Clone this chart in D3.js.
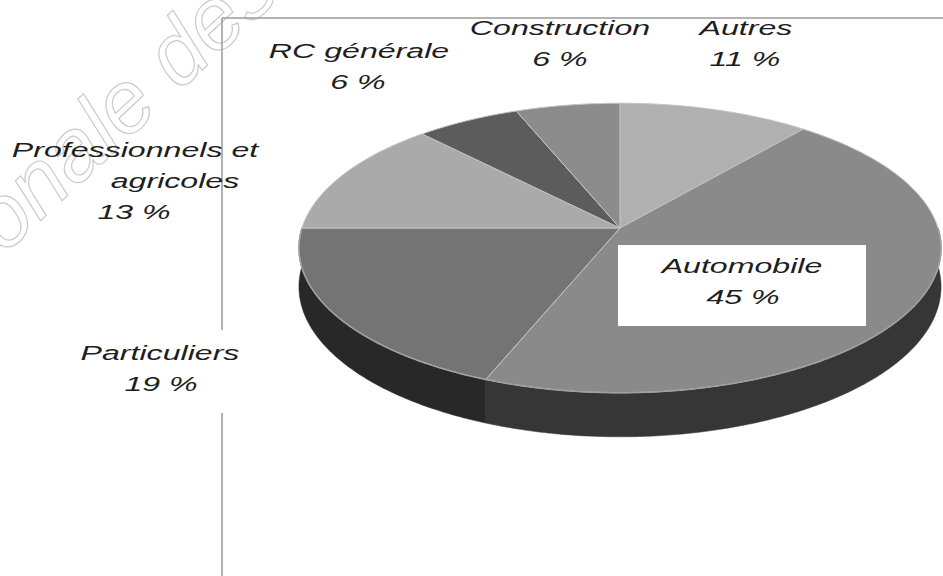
<!DOCTYPE html>
<html>
<head>
<meta charset="utf-8">
<script src="https://cdnjs.cloudflare.com/ajax/libs/d3/7.8.5/d3.min.js"></script>
<style>
  html, body { margin: 0; padding: 0; background: #fff; }
  svg { display: block; }
  .lbl { font-family: "Liberation Sans", Arial, sans-serif; font-style: italic; font-size: 21px; fill: #1e1e1e; }
  .wm { font-family: "Liberation Sans", Arial, sans-serif; font-style: italic; font-size: 88px; fill: none; stroke: #cacaca; stroke-width: 1.2; }
</style>
</head>
<body>
<div id="chart"></div>
<script>
// data
const categories = ['Autres', 'Automobile', 'Particuliers', 'Professionnels et agricoles', 'RC générale', 'Construction'];
const values = [11, 45, 19, 13, 6, 6];
const labelLines = [['Autres', '11 %'], ['Automobile', '45 %'], ['Particuliers', '19 %'],
  ['Professionnels et', 'agricoles', '13 %'], ['RC générale', '6 %'], ['Construction', '6 %']];

const topColors = ['#b0b0b0', '#8a8a8a', '#747474', '#aaaaaa', '#5c5c5c', '#8c8c8c'];
const sideColors = ['#5e5e5e', '#363636', '#282828', '#555555', '#303030', '#404040'];

// label layout: x of each line (centre), y of first baseline
const labelLayout = [
  {x: [746, 745], y: 35},
  {x: [742, 743], y: 273},
  {x: [160, 161], y: 360},
  {x: [135, 175, 134], y: 157},
  {x: [359, 358], y: 58},
  {x: [560, 560], y: 35}
];

const width = 943, height = 576;
const cx = 620, cy = 228, rx = 318, ry = 142, persp = 0.138, depth = 38;

const svg = d3.select('#chart')
  .append('svg')
  .attr('width', width)
  .attr('height', height);

// faint watermark of the scan
svg.append('text')
  .attr('class', 'wm')
  .attr('transform', 'translate(-100,352) rotate(-43)')
  .text('nationale des S');

// frame lines of the scanned page
svg.append('line')
  .attr('x1', 222).attr('y1', 18).attr('x2', width).attr('y2', 18)
  .attr('stroke', '#9a9a9a').attr('stroke-width', 1.5);
svg.append('line')
  .attr('x1', 222).attr('y1', 18).attr('x2', 222).attr('y2', height)
  .attr('stroke', '#9a9a9a').attr('stroke-width', 1.5);

// perspective projection of a point on the pie rim
function proj(t, dz) {
  const u = Math.sin(t), v = Math.cos(t), w = 1 + persp * v;
  return [cx + rx * u / w, cy - ry * v / w + (dz || 0) / w];
}

function arcPoints(a0, a1, dz) {
  const n = Math.max(2, Math.ceil((a1 - a0) / 0.01));
  return d3.range(n + 1).map(i => proj(a0 + (a1 - a0) * i / n, dz));
}

const line = d3.line();

const arcs = d3.pie().sort(null).value(d => d)(values);

const pie = svg.append('g');

// visible side wall (front half)
arcs.forEach((a, i) => {
  const s = Math.max(a.startAngle, Math.PI / 2);
  const e = Math.min(a.endAngle, 3 * Math.PI / 2);
  if (e <= s) return;
  const pts = arcPoints(s, e, 0).concat(arcPoints(s, e, depth).reverse());
  pie.append('path')
    .attr('d', line(pts) + 'Z')
    .attr('fill', sideColors[i])
    .attr('stroke', sideColors[i])
    .attr('stroke-width', 0.5);
});

// top faces
arcs.forEach((a, i) => {
  const pts = [[cx, cy]].concat(arcPoints(a.startAngle, a.endAngle, 0));
  pie.append('path')
    .attr('d', line(pts) + 'Z')
    .attr('fill', topColors[i])
    .attr('stroke', '#c4c4c4')
    .attr('stroke-width', 1)
    .attr('stroke-linejoin', 'round');
});

// light rim between top face and side
pie.append('path')
  .attr('d', line(arcPoints(Math.PI / 2, 3 * Math.PI / 2, 0)))
  .attr('fill', 'none')
  .attr('stroke', '#a0a0a0')
  .attr('stroke-width', 1.5);

// white box behind the Automobile label
svg.append('rect')
  .attr('x', 618).attr('y', 245)
  .attr('width', 248).attr('height', 81)
  .attr('fill', '#fff');

// white patch behind the Particuliers label (hides the frame line)
svg.append('rect')
  .attr('x', 70).attr('y', 330)
  .attr('width', 180).attr('height', 83)
  .attr('fill', '#fff');

// labels
const lineH = 31, sx = 1.53;
labelLines.forEach((lines, i) => {
  const lay = labelLayout[i];
  lines.forEach((t, j) => {
    const x = lay.x[j], y = lay.y + j * lineH;
    svg.append('text')
      .attr('class', 'lbl')
      .attr('text-anchor', 'middle')
      .attr('transform', `translate(${x},${y}) scale(${sx},1)`)
      .text(t);
  });
});
</script>
</body>
</html>
